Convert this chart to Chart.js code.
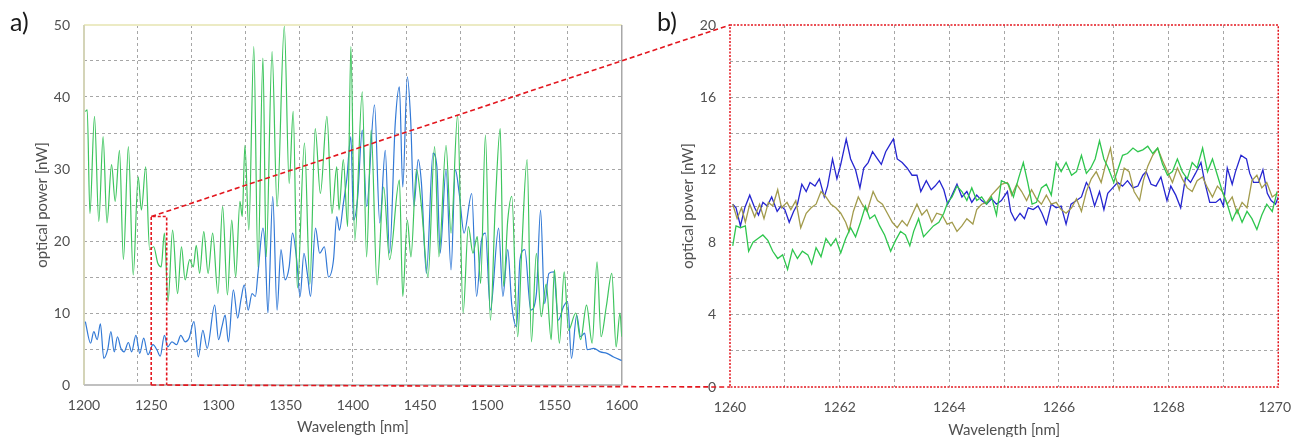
<!DOCTYPE html>
<html>
<head>
<meta charset="utf-8">
<script src="https://cdn.jsdelivr.net/npm/chart.js@4.4.0/dist/chart.umd.min.js"></script>
<style>
  html, body { margin: 0; padding: 0; background: #fff; overflow: hidden; }
  #wrap { position: relative; width: 1295px; height: 437px; overflow: hidden; }
  canvas { position: absolute; top: 0; }
  #chartA { left: 0; }
  #chartB { left: 650px; }
  #overlay { left: 0; pointer-events: none; }
  .tag { position: absolute; font-family: Lato, "Open Sans", sans-serif; font-size: 25px; color: #1a1a1a; line-height: 1; }
</style>
</head>
<body>
<div id="wrap">
  <canvas id="chartA" width="650" height="437"></canvas>
  <canvas id="chartB" width="660" height="445"></canvas>
  <canvas id="overlay" width="1295" height="437"></canvas>
  <div class="tag" style="left:10px;top:9px">a)</div>
  <div class="tag" style="left:657px;top:9px">b)</div>
</div>
<script>
// ---- a) full spectrum, [wavelength nm, power nW] (peaks / troughs read off the plot)
const aGreen = [
  [1201,38.0],[1202.4,38.2],[1204.4,23.8],[1207.8,37.3],[1211.0,22.7],[1214.2,34.5],[1217.1,22.5],[1220.5,30.6],
  [1223.2,25.5],[1226.4,32.6],[1229.3,17.4],[1233.0,33.1],[1236.6,15.3],[1240.3,28.9],[1242.7,24.3],[1245.9,30.3],
  [1248.8,18.8],[1251.8,19.2],[1254.9,16.9],[1257.4,16.4],[1259.8,21.1],[1262.5,11.6],[1265.9,21.5],[1269.6,12.7],
  [1272.5,19.2],[1275.2,14.6],[1278.6,17.4],[1281.3,16.4],[1283.5,19.4],[1286.0,15.5],[1289.1,21.3],[1292.3,15.5],
  [1295.7,21.1],[1299.6,12.7],[1303.1,24.8],[1306.7,12.5],[1309.9,22.9],[1312.8,15.0],[1316.0,25.5],[1317.7,23.4],
  [1319.7,33.3],[1322.6,21.5],[1326.3,47.0],[1329.4,16.4],[1333.1,45.4],[1335.5,17.8],[1339.9,46.3],[1343.6,24.8],
  [1349.0,49.8],[1352.6,28.0],[1355.6,38.0],[1358.7,13.5],[1364.0,33.6],[1368.0,14.0],[1372.0,35.6],[1375.8,26.6],
  [1380.7,37.3],[1384.4,23.8],[1388.0,30.3],[1389.7,24.3],[1392.9,31.3],[1396.1,22.0],[1398.5,47.0],[1401.4,20.1],
  [1407.0,40.7],[1410.2,17.8],[1413.6,35.4],[1418.0,13.9],[1422.9,27.5],[1427.3,17.4],[1434.6,28.5],[1437.1,12.3],
  [1440.5,22.9],[1443.2,17.8],[1447.3,29.9],[1451.0,24.8],[1455.9,15.0],[1460.8,33.1],[1464.0,17.8],[1469.3,33.3],
  [1473.0,21.1],[1477.9,37.5],[1482.0,10.0],[1485.9,22.0],[1489.3,18.3],[1492.5,20.6],[1495.0,14.1],[1498.6,34.7],
  [1502.3,9.0],[1505.9,24.8],[1509.6,35.6],[1512.1,13.7],[1515.2,22.9],[1518.2,26.2],[1522.6,6.7],[1525.5,18.3],
  [1529.6,31.3],[1532.8,6.0],[1536.5,18.3],[1540.1,9.5],[1543.8,14.0],[1547.5,6.3],[1549.9,16.0],[1553.6,5.8],
  [1557.2,15.7],[1560.4,7.6],[1565.8,10.0],[1569.4,6.3],[1573.8,11.1],[1578.0,5.8],[1581.6,17.1],[1584.6,6.7],
  [1588.5,10.9],[1592.6,15.5],[1595.8,5.3],[1598.7,10.0],[1600,6.7]
];
const aBlue = [
  [1201,8.8],[1204.9,5.8],[1207.3,7.4],[1209.8,6.3],[1212.2,8.5],[1214.7,3.7],[1217.6,4.9],[1220.0,7.4],
  [1222.5,4.6],[1224.9,6.7],[1227.4,5.1],[1229.8,4.6],[1233.0,5.9],[1235.4,4.6],[1238.6,6.9],[1241.5,4.4],
  [1244.4,6.5],[1247.6,4.2],[1251.3,5.6],[1254.2,4.9],[1256.7,4.0],[1259.8,6.9],[1262.3,5.3],[1265.4,6.0],
  [1268.9,5.6],[1272.0,6.9],[1275.2,6.0],[1278.1,6.5],[1281.8,8.8],[1285.0,3.9],[1288.4,7.6],[1291.6,5.1],
  [1297.2,11.1],[1300.1,6.3],[1302.6,8.1],[1305.0,9.7],[1307.4,6.0],[1311.1,13.2],[1314.3,9.3],[1316.7,11.8],
  [1319.2,13.9],[1322.1,10.4],[1325.0,12.7],[1327.5,12.3],[1329.4,15.5],[1333.1,21.8],[1334.8,18.8],[1336.8,10.0],
  [1340.4,26.2],[1343.6,10.4],[1346.5,18.8],[1349.5,14.6],[1352.6,16.4],[1355.1,21.1],[1358.2,17.4],[1360.7,12.3],
  [1363.6,18.3],[1366.1,15.5],[1368.5,12.3],[1372.2,21.8],[1375.3,18.3],[1378.8,19.2],[1381.9,15.0],[1385.6,17.4],
  [1388.0,23.4],[1390.0,21.5],[1392.9,25.2],[1395.4,28.5],[1398.5,34.5],[1400.5,22.9],[1403.4,25.7],[1407.0,35.4],
  [1410.2,24.8],[1416.1,38.9],[1420.0,22.5],[1424.1,32.6],[1427.3,18.3],[1431.5,36.3],[1434.6,41.4],[1437.1,27.5],
  [1440.5,42.8],[1443.0,36.8],[1445.4,24.8],[1448.6,31.3],[1451.0,28.0],[1454.7,15.5],[1459.6,32.2],[1462.5,30.3],
  [1464.9,18.3],[1469.3,29.9],[1473.0,16.0],[1476.2,29.9],[1479.1,26.6],[1482.7,21.1],[1488.4,26.6],[1492.0,12.3],
  [1495.7,20.1],[1498.6,21.1],[1502.3,10.4],[1508.4,21.8],[1511.6,12.3],[1515.2,18.8],[1518.2,11.1],[1521.8,8.1],
  [1524.3,17.4],[1527.9,18.8],[1532.3,10.4],[1536.5,12.7],[1539.6,24.3],[1542.6,11.3],[1545.8,15.5],[1549.4,15.7],
  [1552.8,9.0],[1556.7,10.9],[1559.7,11.6],[1562.6,3.7],[1566.5,9.7],[1569.4,6.7],[1572.4,7.2],[1574.3,4.9],
  [1579.2,5.1],[1584.1,4.6],[1589.0,4.4],[1593.9,3.9],[1600,3.4]
];
const aLabelX = [1200, 1250, 1300, 1350, 1400, 1450, 1500, 1550, 1600];
const aGridX = [1240, 1280, 1320, 1360, 1400, 1440, 1480, 1520, 1560];
const aRangeY = [0, 50];

// ---- b) zoom 1260-1270 nm
const bBlue = [
  [1260.05,10.1],[1260.11,9.9],[1260.19,8.9],[1260.27,9.9],[1260.36,10.6],[1260.45,9.9],[1260.52,9.5],[1260.60,10.2],
  [1260.68,10.0],[1260.76,10.5],[1260.86,9.7],[1260.93,10.0],[1261.00,9.8],[1261.08,9.1],[1261.16,9.7],[1261.23,10.1],
  [1261.31,11.2],[1261.39,10.8],[1261.46,11.3],[1261.55,11.1],[1261.63,11.5],[1261.72,10.5],[1261.78,11.1],[1261.87,12.6],
  [1261.95,11.5],[1262.02,12.3],[1262.12,13.7],[1262.20,12.6],[1262.29,12.0],[1262.37,11.0],[1262.44,12.1],[1262.52,12.4],
  [1262.60,13.0],[1262.69,12.6],[1262.76,12.3],[1262.84,13.0],[1262.92,13.4],[1262.98,13.7],[1263.05,12.6],[1263.14,12.4],
  [1263.23,12.1],[1263.32,11.7],[1263.41,11.7],[1263.48,10.8],[1263.58,11.4],[1263.67,10.9],[1263.74,11.1],[1263.82,11.4],
  [1263.90,10.9],[1263.97,10.1],[1264.05,10.6],[1264.14,11.2],[1264.23,10.5],[1264.32,10.8],[1264.41,10.2],[1264.50,10.6],
  [1264.59,10.3],[1264.68,10.1],[1264.77,10.4],[1264.86,10.1],[1264.95,10.3],[1265.06,10.8],[1265.12,9.7],[1265.20,9.2],
  [1265.29,9.6],[1265.37,9.3],[1265.44,9.9],[1265.53,9.8],[1265.62,10.0],[1265.69,9.6],[1265.77,9.0],[1265.86,10.1],
  [1265.95,9.9],[1266.04,10.0],[1266.13,9.0],[1266.22,10.1],[1266.32,10.3],[1266.41,10.5],[1266.50,11.3],[1266.56,11.0],
  [1266.65,10.0],[1266.74,10.8],[1266.82,9.8],[1266.89,10.7],[1266.98,11.0],[1267.07,11.3],[1267.16,11.1],[1267.25,11.4],
  [1267.35,11.0],[1267.44,11.1],[1267.53,11.7],[1267.59,11.9],[1267.68,11.2],[1267.77,11.1],[1267.86,11.6],[1267.97,10.3],
  [1268.04,11.1],[1268.13,10.6],[1268.22,9.9],[1268.31,11.6],[1268.40,11.3],[1268.49,11.8],[1268.59,12.4],[1268.66,11.3],
  [1268.75,10.2],[1268.86,10.2],[1268.94,10.4],[1269.00,10.0],[1269.07,12.1],[1269.16,11.2],[1269.22,11.9],[1269.32,12.8],
  [1269.42,12.6],[1269.48,11.8],[1269.55,11.3],[1269.64,11.3],[1269.72,12.0],[1269.80,10.7],[1269.87,10.3],[1269.95,10.1],
  [1270.0,10.5]
];
const bOlive = [
  [1260.05,10.1],[1260.13,9.3],[1260.21,9.9],[1260.28,9.1],[1260.36,10.1],[1260.45,9.4],[1260.54,10.1],[1260.62,9.3],
  [1260.70,10.2],[1260.78,10.0],[1260.87,10.9],[1260.94,9.9],[1261.04,10.2],[1261.11,9.8],[1261.20,10.3],[1261.29,8.8],
  [1261.39,9.6],[1261.48,9.9],[1261.57,10.1],[1261.66,10.8],[1261.75,10.5],[1261.84,10.1],[1261.93,9.9],[1262.02,9.6],
  [1262.11,9.1],[1262.17,8.6],[1262.25,9.7],[1262.34,10.5],[1262.41,10.1],[1262.50,9.7],[1262.61,10.8],[1262.69,10.3],
  [1262.78,10.1],[1262.87,9.6],[1262.96,9.1],[1263.05,8.8],[1263.14,9.2],[1263.23,8.9],[1263.32,9.5],[1263.41,10.1],
  [1263.50,9.5],[1263.59,9.8],[1263.68,9.1],[1263.77,9.6],[1263.87,9.5],[1263.96,9.0],[1264.05,9.1],[1264.14,8.6],
  [1264.23,8.9],[1264.32,9.3],[1264.43,9.0],[1264.50,9.8],[1264.59,10.1],[1264.68,10.2],[1264.77,10.6],[1264.86,10.9],
  [1264.95,11.2],[1265.06,11.3],[1265.14,10.6],[1265.23,11.2],[1265.32,10.8],[1265.41,10.3],[1265.50,10.9],[1265.59,10.4],
  [1265.68,10.1],[1265.77,10.6],[1265.86,10.1],[1265.95,10.2],[1266.04,9.8],[1266.13,9.6],[1266.23,9.9],[1266.32,10.4],
  [1266.41,9.7],[1266.50,10.8],[1266.59,11.5],[1266.68,11.9],[1266.77,11.3],[1266.86,12.4],[1266.94,13.2],[1267.02,11.7],
  [1267.10,10.9],[1267.19,12.1],[1267.28,11.9],[1267.37,10.8],[1267.47,10.3],[1267.54,11.4],[1267.62,12.2],[1267.71,12.8],
  [1267.80,13.2],[1267.89,12.5],[1267.98,11.9],[1268.07,11.3],[1268.16,12.1],[1268.25,11.5],[1268.34,11.0],[1268.43,10.8],
  [1268.52,11.4],[1268.62,11.6],[1268.71,11.0],[1268.80,10.5],[1268.89,11.1],[1268.98,10.8],[1269.07,10.1],[1269.16,10.5],
  [1269.25,9.6],[1269.34,10.2],[1269.43,9.9],[1269.52,11.4],[1269.61,11.7],[1269.70,11.0],[1269.79,11.3],[1269.89,10.5],
  [1269.98,10.7]
];
const bGreen = [
  [1260.05,7.8],[1260.11,8.9],[1260.19,8.8],[1260.28,8.9],[1260.34,7.5],[1260.42,8.0],[1260.51,8.2],[1260.60,8.4],
  [1260.69,8.1],[1260.78,7.5],[1260.87,7.1],[1260.96,7.3],[1261.05,6.5],[1261.14,7.6],[1261.23,7.1],[1261.32,7.5],
  [1261.42,7.3],[1261.49,6.8],[1261.57,7.7],[1261.66,7.2],[1261.75,8.2],[1261.84,7.8],[1261.93,8.2],[1262.02,7.4],
  [1262.11,8.2],[1262.20,8.8],[1262.29,8.3],[1262.38,9.1],[1262.47,10.0],[1262.55,9.3],[1262.64,9.5],[1262.73,8.9],
  [1262.82,8.4],[1262.93,7.5],[1263.02,8.1],[1263.11,8.6],[1263.20,8.4],[1263.28,7.8],[1263.35,8.6],[1263.44,9.3],
  [1263.53,8.3],[1263.62,8.6],[1263.71,8.9],[1263.81,9.1],[1263.90,9.6],[1263.97,10.2],[1264.05,10.5],[1264.14,11.1],
  [1264.23,10.8],[1264.32,10.3],[1264.41,11.0],[1264.50,10.3],[1264.59,10.5],[1264.68,10.1],[1264.77,10.5],[1264.86,9.5],
  [1264.95,11.4],[1265.08,11.2],[1265.17,10.5],[1265.26,11.5],[1265.35,12.4],[1265.43,11.3],[1265.51,10.1],[1265.59,10.2],
  [1265.68,11.0],[1265.77,11.2],[1265.86,10.6],[1265.95,12.4],[1266.04,11.9],[1266.13,12.4],[1266.23,11.7],[1266.32,11.9],
  [1266.41,12.8],[1266.50,11.8],[1266.58,12.1],[1266.66,12.6],[1266.74,13.6],[1266.82,12.6],[1266.90,12.1],[1267.00,11.3],
  [1267.05,11.8],[1267.16,12.8],[1267.25,12.9],[1267.35,13.2],[1267.44,13.0],[1267.53,13.1],[1267.62,13.3],[1267.71,12.9],
  [1267.80,13.2],[1267.89,12.3],[1267.98,11.7],[1268.07,11.9],[1268.16,12.6],[1268.25,11.9],[1268.34,11.5],[1268.43,12.4],
  [1268.52,12.1],[1268.62,13.2],[1268.71,11.9],[1268.80,12.6],[1268.89,11.7],[1268.98,10.8],[1269.07,10.1],[1269.16,9.2],
  [1269.25,9.8],[1269.34,9.1],[1269.43,9.7],[1269.52,9.3],[1269.61,8.7],[1269.70,9.5],[1269.79,10.1],[1269.89,9.7],
  [1269.98,10.8]
];
const bRangeX = [1260, 1270];
const bRangeY = [0, 20];

// zoomed window as marked in a): [x from, x to, y from, y to]
const zoomBoxA = [1250, 1261.5, 0, 23.4];

const gridGrey = '#a6a6a6';
const textGrey = '#505050';
const tickFont = { family: 'Lato, "Open Sans", sans-serif', size: 14 };
const titleFont = { family: 'Lato, "Open Sans", sans-serif', size: 15 };
const toXY = arr => arr.map(p => ({ x: p[0], y: p[1] }));
const noGrid = 'rgba(0,0,0,0)';

const frameA = {
  id: 'frameA',
  beforeDatasetsDraw(chart) {
    const { ctx, chartArea: { left, right, top, bottom } } = chart;
    ctx.save();
    ctx.lineWidth = 2;
    ctx.strokeStyle = '#ecebc4';
    ctx.beginPath(); ctx.moveTo(left, top); ctx.lineTo(right, top); ctx.stroke();
    ctx.strokeStyle = '#d4d4b8';
    ctx.beginPath(); ctx.moveTo(left, top); ctx.lineTo(left, bottom); ctx.stroke();
    ctx.lineWidth = 1.5;
    ctx.strokeStyle = '#a8a8a8';
    ctx.beginPath(); ctx.moveTo(right, top); ctx.lineTo(right, bottom); ctx.stroke();
    ctx.lineWidth = 2;
    ctx.strokeStyle = '#c0c0c0';
    ctx.beginPath(); ctx.moveTo(left, bottom); ctx.lineTo(right, bottom); ctx.stroke();
    ctx.restore();
  }
};

const chartA = new Chart(document.getElementById('chartA'), {
  type: 'line',
  data: {
    datasets: [
      { data: toXY(aGreen), borderColor: '#3ec55e' },
      { data: toXY(aBlue), borderColor: '#3279d6' }
    ]
  },
  options: {
    responsive: false,
    animation: false,
    layout: { padding: { left: 0, right: 20, top: 25, bottom: 0 } },
    plugins: { legend: { display: false }, tooltip: { enabled: false } },
    elements: {
      point: { radius: 0 },
      line: { borderWidth: 1.2, tension: 0.4, cubicInterpolationMode: 'monotone' }
    },
    scales: {
      x: {
        type: 'linear', min: aLabelX[0], max: aLabelX[aLabelX.length - 1],
        afterBuildTicks: s => {
          const vals = [...new Set(aLabelX.concat(aGridX))].sort((p, q) => p - q);
          s.ticks = vals.map(v => ({ value: v }));
        },
        afterFit: s => { s.height = 52; },
        grid: { drawTicks: false, color: c => aGridX.includes(c.tick && c.tick.value) ? gridGrey : noGrid },
        border: { display: false, dash: [3, 3] },
        ticks: {
          autoSkip: false, maxRotation: 0, padding: 12, color: textGrey, font: tickFont,
          callback: v => aLabelX.includes(v) ? String(v) : ''
        },
        title: { display: true, text: 'Wavelength [nm]', color: textGrey, font: titleFont, padding: { top: 0, bottom: 1 } }
      },
      y: {
        min: aRangeY[0], max: aRangeY[1],
        afterFit: s => { s.width = 84; },
        grid: { drawTicks: false, color: c => (c.tick && c.tick.value > aRangeY[0] && c.tick.value < aRangeY[1]) ? gridGrey : noGrid },
        border: { display: false, dash: [3, 3] },
        ticks: {
          stepSize: 5, padding: 14, color: textGrey, font: tickFont,
          callback: v => v % 10 === 0 ? String(v) : ''
        },
        title: { display: true, text: 'optical power [nW]', color: textGrey, font: titleFont, padding: { top: 33, bottom: 0 } }
      }
    }
  },
  plugins: [frameA]
});

const chartB = new Chart(document.getElementById('chartB'), {
  type: 'line',
  data: {
    datasets: [
      { data: toXY(bGreen), borderColor: '#2fc64e' },
      { data: toXY(bOlive), borderColor: '#a29b4c' },
      { data: toXY(bBlue), borderColor: '#2626d0' }
    ]
  },
  options: {
    responsive: false,
    animation: false,
    layout: { padding: { left: 0, right: 29, top: 25, bottom: 0 } },
    plugins: { legend: { display: false }, tooltip: { enabled: false } },
    elements: {
      point: { radius: 0 },
      line: { borderWidth: 1.3, tension: 0 }
    },
    scales: {
      x: {
        type: 'linear', min: bRangeX[0], max: bRangeX[1],
        afterFit: s => { s.height = 58; },
        grid: { drawTicks: false, color: c => (c.tick && c.tick.value > bRangeX[0] && c.tick.value < bRangeX[1]) ? gridGrey : noGrid },
        border: { display: false, dash: [3, 3] },
        ticks: {
          stepSize: 1, autoSkip: false, maxRotation: 0, padding: 12, color: textGrey, font: tickFont,
          // last label nudged left (trailing en space) so it stays inside the page
          callback: v => v % 2 !== 0 ? '' : (v === bRangeX[1] ? v + '\u2002' : String(v))
        },
        title: { display: true, text: 'Wavelength [nm]', color: textGrey, font: titleFont, padding: { top: 0, bottom: 6 } }
      },
      y: {
        min: bRangeY[0], max: bRangeY[1],
        afterFit: s => { s.width = 80; },
        grid: { drawTicks: false, color: c => (c.tick && c.tick.value > bRangeY[0] && c.tick.value < bRangeY[1]) ? gridGrey : noGrid },
        border: { display: false, dash: [3, 3] },
        ticks: {
          stepSize: 2, padding: 14, color: textGrey, font: tickFont,
          callback: v => v % 4 === 0 ? String(v) : ''
        },
        title: { display: true, text: 'optical power [nW]', color: textGrey, font: titleFont, padding: { top: 29, bottom: 0 } }
      }
    }
  }
});

// red zoom markers drawn across both charts
function drawZoomMarks() {
  const ctx = document.getElementById('overlay').getContext('2d');
  const offB = document.getElementById('chartB').offsetLeft;
  const ax = chartA.scales.x, ay = chartA.scales.y;
  const bx = chartB.scales.x, by = chartB.scales.y;
  const x0 = ax.getPixelForValue(zoomBoxA[0]), x1 = ax.getPixelForValue(zoomBoxA[1]);
  const y0 = ay.getPixelForValue(zoomBoxA[2]), y1 = ay.getPixelForValue(zoomBoxA[3]);
  const bl = offB + bx.getPixelForValue(bRangeX[0]), br = offB + bx.getPixelForValue(bRangeX[1]);
  const bb = by.getPixelForValue(bRangeY[0]), bt = by.getPixelForValue(bRangeY[1]);

  ctx.save();
  ctx.strokeStyle = '#e3161e';
  // box in a)
  ctx.lineWidth = 1.6;
  ctx.setLineDash([3, 2]);
  ctx.beginPath();
  ctx.moveTo(x0, y0); ctx.lineTo(x0, y1); ctx.lineTo(x1, y1); ctx.lineTo(x1, y0);
  ctx.stroke();
  // connectors
  ctx.setLineDash([5, 3]);
  ctx.beginPath();
  ctx.moveTo(x0, y1); ctx.lineTo(bl, bt);
  ctx.moveTo(x0, y0); ctx.lineTo(bl, bb);
  ctx.stroke();
  // frame of b)
  ctx.lineWidth = 1.5;
  ctx.setLineDash([2, 1.5]);
  ctx.strokeRect(bl, bt, br - bl, bb - bt);
  ctx.restore();
}
drawZoomMarks();
</script>
</body>
</html>
